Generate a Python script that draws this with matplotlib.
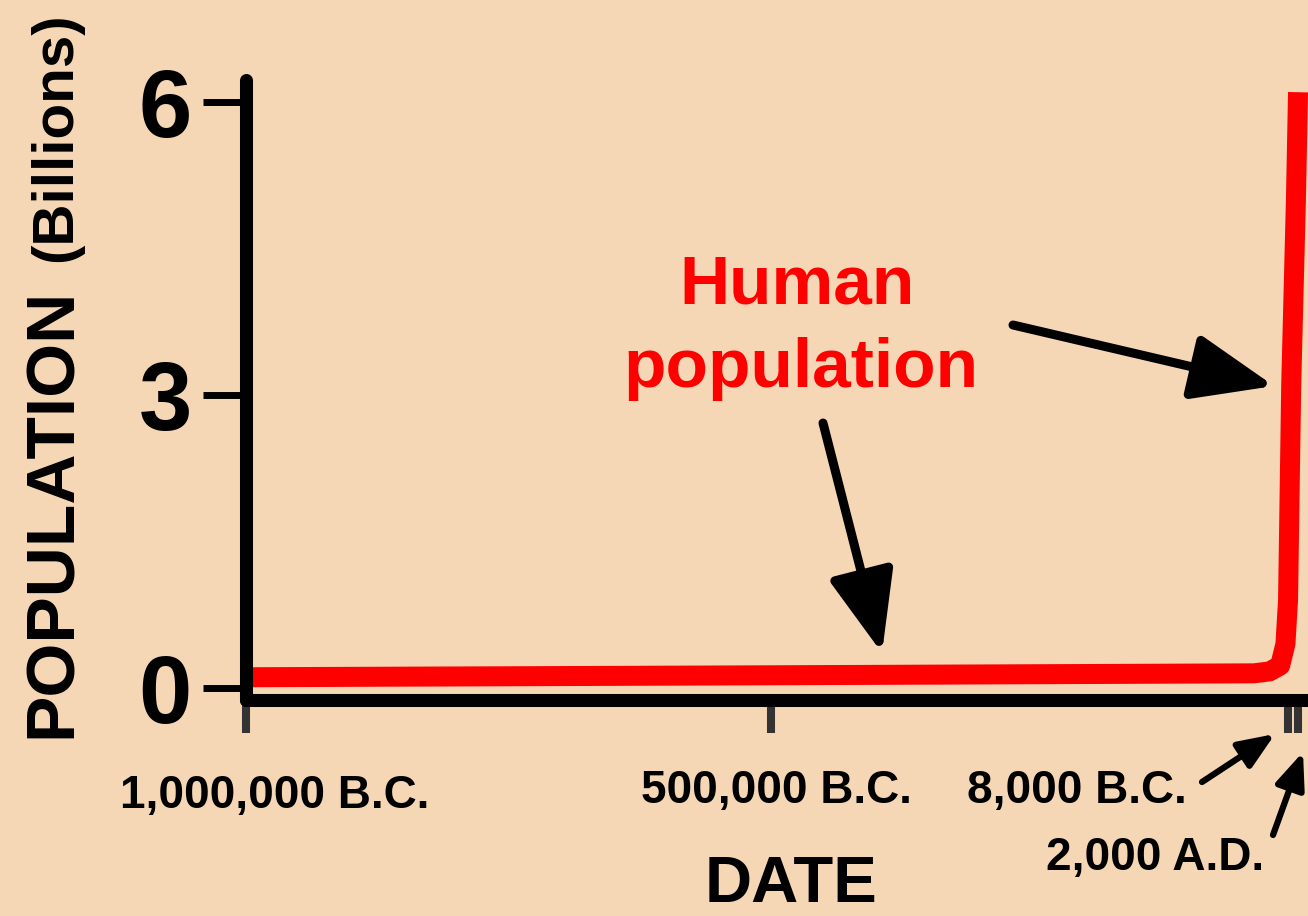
import matplotlib
matplotlib.use("Agg")
import matplotlib.pyplot as plt

# ----------------- Data -----------------
years = [-1000000, -500000, -40000, -25000, -15000, -10000, -7500, -4500, 0, 2000]
population = [0.11, 0.13, 0.15, 0.17, 0.23, 0.45, 0.9, 3.1, 5.0, 6.1]   # billions

y_ticks = [0, 3, 6]
y_tick_labels = ["0", "3", "6"]
x_ticks = [-1000000, -500000, -8000, 2000]
x_tick_labels = ["1,000,000 B.C.", "500,000 B.C.", "8,000 B.C.", "2,000 A.D."]

# ----------------- Style -----------------
W, H = 1308, 916
BG = "#F6D7B5"
plt.rcParams["font.family"] = ["Liberation Sans", "DejaVu Sans"]
plt.rcParams["font.weight"] = "bold"


def fpx(x, y):
    # figure pixel (from top-left) -> figure fraction
    return (x / W, 1 - y / H)


fig = plt.figure(figsize=(W / 100, H / 100), dpi=100, facecolor=BG)
ax = fig.add_axes([246 / W, 216 / H, 1062 / W, 620 / H], facecolor=BG)

ax.plot(years, population, color="#FF0000", lw=14.4,
        solid_joinstyle="round", solid_capstyle="butt", clip_on=False)

ax.set_xlim(-1000000, 11500)
ax.set_ylim(-0.123, 6.225)

for side in ["top", "right"]:
    ax.spines[side].set_visible(False)
for side in ["left", "bottom"]:
    ax.spines[side].set_linewidth(9.4)
    ax.spines[side].set_color("black")
    ax.spines[side].set_capstyle("round")

ax.set_yticks(y_ticks)
ax.set_yticklabels(y_tick_labels)
ax.tick_params(axis="y", length=31, width=5, pad=8, labelsize=69, color="black")
ax.set_xticks(x_ticks)
ax.tick_params(axis="x", length=24, width=5.8, color="#333333", labelbottom=False)

# ----------------- Axis labels -----------------
fig.text(*fpx(71, 738), "POPULATION", rotation=90, rotation_mode="anchor",
         ha="left", va="baseline", fontsize=50)
fig.text(*fpx(71, 262), "(Billions)", rotation=90, rotation_mode="anchor",
         ha="left", va="baseline", fontsize=42)
fig.text(*fpx(791, 902), "DATE", ha="center", va="baseline", fontsize=47)

# date labels under the axis
label_pos = [(275, 808), (776, 803), (1077, 803), (1155, 870)]
for lab, (px, py) in zip(x_tick_labels, label_pos):
    fig.text(*fpx(px, py), lab, ha="center", va="baseline", fontsize=33)

# ----------------- Annotation -----------------
fig.text(*fpx(797, 303), "Human", ha="center", va="baseline", fontsize=50, color="#FF0000")
fig.text(*fpx(801, 387), "population", ha="center", va="baseline", fontsize=50, color="#FF0000")


def arrow(tail, tip, lw, hl, hw):
    ax.annotate("", xy=fpx(*tip), xycoords="figure fraction",
                xytext=fpx(*tail), textcoords="figure fraction",
                arrowprops=dict(arrowstyle=f"-|>,head_length={hl},head_width={hw}",
                                lw=lw, color="black", shrinkA=0, shrinkB=0,
                                mutation_scale=100),
                annotation_clip=False)


arrow((1013, 325), (1274, 386), 6.5, 0.5, 0.2)
arrow((823, 423), (882, 653), 6.5, 0.5, 0.2)
arrow((1202, 782), (1275, 734), 4.5, 0.22, 0.09)
arrow((1273, 835), (1303, 752), 4.5, 0.22, 0.09)

fig.savefig("out.png", dpi=100, facecolor=BG)
